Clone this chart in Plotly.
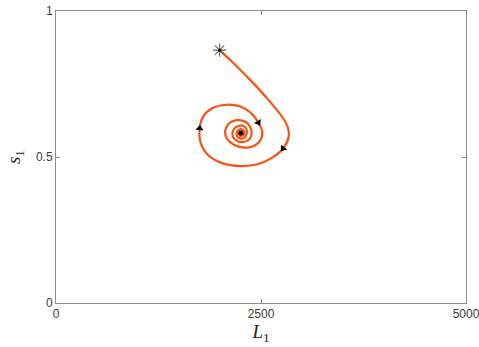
import numpy as np
import plotly.graph_objects as go

# Trajectory in the (L1, s1) phase plane, spiralling into the equilibrium
L1 = [1995, 2163, 2406, 2614, 2760, 2827, 2839, 2769, 2638, 2455,
      2248, 2028, 1858, 1766, 1752, 1797, 1906, 2077, 2248, 2382,
      2467, 2516, 2486, 2406, 2305, 2175, 2089, 2061, 2102, 2199,
      2309, 2370, 2386, 2352, 2264, 2187, 2150, 2187, 2264, 2321,
      2325, 2297, 2254, 2211, 2203, 2224, 2260, 2291, 2291, 2254,
      2230, 2248, 2266, 2254]
s1 = [0.866, 0.822, 0.753, 0.688, 0.637, 0.602, 0.571, 0.529, 0.498, 0.475,
      0.469, 0.479, 0.506, 0.547, 0.598, 0.640, 0.667, 0.679, 0.673, 0.650,
      0.618, 0.585, 0.554, 0.537, 0.532, 0.541, 0.561, 0.585, 0.613, 0.626,
      0.621, 0.602, 0.579, 0.559, 0.551, 0.559, 0.579, 0.601, 0.608, 0.597,
      0.580, 0.566, 0.563, 0.570, 0.582, 0.592, 0.595, 0.589, 0.577, 0.572,
      0.580, 0.587, 0.583, 0.582]

# Initial state and equilibrium
start_L, start_s = [1995], [0.866]
eq_L, eq_s = [2254], [0.582]

# Indices along the trajectory where direction arrows are placed
arrow_idx = [7, 14, 20]

x_ticks = [0, 2500, 5000]
y_ticks = [0, 0.5, 1]

W, H = 479, 347
ml, mr, mt, mb = 56, 13, 11, 44
px_per_x = (W - ml - mr) / 5000.0
px_per_y = (H - mt - mb) / 1.0

# Arrow orientation from neighbouring points (screen space, clockwise from up)
ang = []
for i in arrow_idx:
    dx = (L1[i + 1] - L1[i - 1]) * px_per_x
    dy = -(s1[i + 1] - s1[i - 1]) * px_per_y
    ang.append(float(np.degrees(np.arctan2(dx, -dy))))

orange = "#FA520F"
axis_col = "#8c8c8c"
text_col = "#3a3a3a"

fig = go.Figure()
fig.add_trace(go.Scatter(
    x=L1, y=s1, mode="lines", line=dict(color=orange, width=2.2, shape="spline", smoothing=0.8),
    hoverinfo="skip", showlegend=False))
fig.add_trace(go.Scatter(
    x=[L1[i] for i in arrow_idx], y=[s1[i] for i in arrow_idx], mode="markers",
    marker=dict(symbol="triangle-up", size=7, color="black", angle=ang, line=dict(width=0)),
    hoverinfo="skip", showlegend=False))
fig.add_trace(go.Scatter(
    x=start_L, y=start_s, mode="markers",
    marker=dict(symbol="asterisk-open", size=11, color="#666666", line=dict(width=1.1, color="#666666")),
    hoverinfo="skip", showlegend=False))
fig.add_trace(go.Scatter(
    x=start_L, y=start_s, mode="markers",
    marker=dict(symbol="circle", size=3, color="black"),
    hoverinfo="skip", showlegend=False))
fig.add_trace(go.Scatter(
    x=eq_L, y=eq_s, mode="markers",
    marker=dict(symbol="circle", size=5, color="black"),
    hoverinfo="skip", showlegend=False))

axis_common = dict(
    showline=True, linecolor=axis_col, linewidth=1, mirror="ticks",
    ticks="inside", ticklen=4, tickcolor=axis_col, tickwidth=1,
    showgrid=False, zeroline=False, ticklabeloverflow="allow", automargin=False,
    tickfont=dict(family="Liberation Sans, Arial, sans-serif", size=12, color=text_col),
)

fig.update_layout(
    width=W, height=H,
    margin=dict(l=ml, r=mr, t=mt, b=mb),
    paper_bgcolor="white", plot_bgcolor="white",
    xaxis=dict(range=[0, 5000], tickvals=x_ticks, ticktext=[str(v) for v in x_ticks],
               title=dict(text="<i>L</i><sub>1</sub>", standoff=2,
                          font=dict(family="Liberation Serif, DejaVu Serif, serif", size=19, color="#222222")),
               **axis_common),
    yaxis=dict(range=[0, 1], tickvals=y_ticks, ticktext=["0", "0.5", "1"],
               title=dict(text="<i>s</i><sub>1</sub>", standoff=10,
                          font=dict(family="Liberation Serif, DejaVu Serif, serif", size=19, color="#222222")),
               **axis_common),
)

fig.write_html("out.html")
